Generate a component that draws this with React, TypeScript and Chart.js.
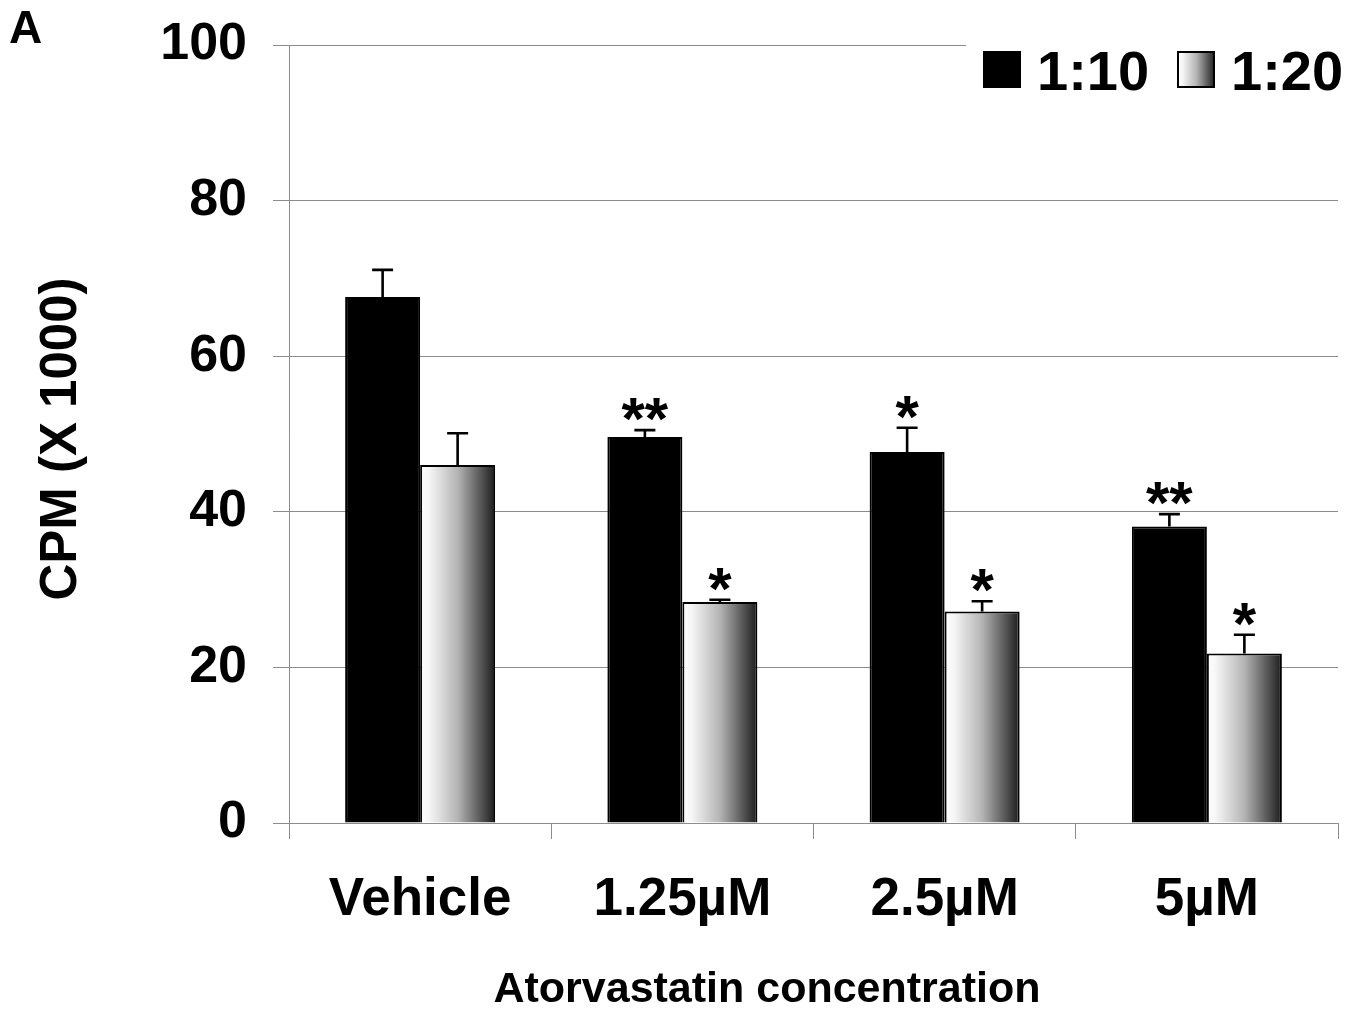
import React, { useEffect, useRef } from "react";
import { Chart, registerables } from "chart.js";

Chart.register(...registerables);

const categories = ["Vehicle", "1.25µM", "2.5µM", "5µM"];
const seriesLabels = ["1:10", "1:20"];
const values110 = [67.6, 49.6, 47.7, 38.1];
const values120 = [46.0, 28.4, 27.2, 21.8];
const errors110 = [3.5, 0.9, 3.1, 1.6];
const errors120 = [4.1, 0.3, 1.3, 2.4];
const marks110 = ["", "**", "*", "**"];
const marks120 = ["", "*", "*", "*"];
const yTickValues = [0, 20, 40, 60, 80, 100];
const xTitle = "Atorvastatin concentration";
const yTitle = "CPM (X 1000)";
const panelLabel = "A";

const FONT = "'Liberation Sans', Arial, Helvetica, sans-serif";
const GRID = "#8c8c8c";
const W = 1363;
const H = 1013;

function makeGradient(ctx: CanvasRenderingContext2D, x0: number, x1: number) {
  const g = ctx.createLinearGradient(x0, 0, x1, 0);
  g.addColorStop(0, "#ffffff");
  g.addColorStop(0.12, "#f6f6f6");
  g.addColorStop(0.5, "#b4b4b4");
  g.addColorStop(0.85, "#4a4a4a");
  g.addColorStop(1, "#1c1c1c");
  return g;
}

const gradientPlugin = {
  id: "gradientBars",
  beforeDatasetsDraw(chart: any) {
    const ctx = chart.ctx;
    const meta = chart.getDatasetMeta(1);
    meta.data.forEach((el: any) => {
      const x0 = el.x - el.width / 2;
      const x1 = el.x + el.width / 2;
      el.options.backgroundColor = makeGradient(ctx, x0, x1);
    });
  },
};

const errorPlugin = {
  id: "errorBars",
  afterDatasetsDraw(chart: any) {
    const ctx = chart.ctx as CanvasRenderingContext2D;
    const yScale = chart.scales.y;
    const errs = [errors110, errors120];
    const marks = [marks110, marks120];
    chart.data.datasets.forEach((ds: any, di: number) => {
      const meta = chart.getDatasetMeta(di);
      meta.data.forEach((el: any, i: number) => {
        const v = ds.data[i] as number;
        const top = yScale.getPixelForValue(v + errs[di][i]);
        ctx.save();
        ctx.strokeStyle = "#000";
        ctx.lineWidth = 2.6;
        ctx.beginPath();
        ctx.moveTo(el.x, el.y);
        ctx.lineTo(el.x, top);
        ctx.moveTo(el.x - 10.5, top);
        ctx.lineTo(el.x + 10.5, top);
        ctx.stroke();
        const m = marks[di][i];
        if (m) {
          ctx.font = `bold 60px ${FONT}`;
          ctx.fillStyle = "#000";
          ctx.textAlign = "center";
          ctx.textBaseline = "alphabetic";
          const desc = ctx.measureText(m).actualBoundingBoxDescent;
          ctx.fillText(m, el.x, top - 9 - desc);
        }
        ctx.restore();
      });
    });
  },
};

const labelsPlugin = {
  id: "customLegendAndTitles",
  afterDraw(chart: any) {
    const ctx = chart.ctx as CanvasRenderingContext2D;
    ctx.save();
    // white legend background covering the top gridline
    ctx.fillStyle = "#ffffff";
    ctx.fillRect(966, 30, W - 966, 70);
    // swatch 1
    ctx.fillStyle = "#000";
    ctx.fillRect(983, 51, 38, 37);
    // swatch 2
    ctx.fillStyle = makeGradient(ctx, 1178, 1215);
    ctx.fillRect(1177, 51, 38, 37);
    ctx.strokeStyle = "#000";
    ctx.lineWidth = 2;
    ctx.strokeRect(1178, 52, 36, 35);
    ctx.fillStyle = "#000";
    ctx.font = `bold 56px ${FONT}`;
    ctx.textAlign = "left";
    ctx.textBaseline = "alphabetic";
    ctx.fillText(chart.data.datasets[0].label, 1037, 90);
    ctx.fillText(chart.data.datasets[1].label, 1231, 90);
    // panel label
    ctx.font = `bold 46px ${FONT}`;
    ctx.fillText(panelLabel, 9, 43);
    // x axis title
    ctx.font = `bold 43px ${FONT}`;
    ctx.textAlign = "center";
    ctx.fillText(xTitle, 767, 1002);
    // y axis title
    ctx.font = `bold 51px ${FONT}`;
    ctx.translate(76, 439);
    ctx.rotate(-Math.PI / 2);
    ctx.textAlign = "center";
    ctx.textBaseline = "alphabetic";
    ctx.fillText(yTitle, 0, 0);
    ctx.restore();
  },
};

export default function App() {
  const canvasRef = useRef<HTMLCanvasElement | null>(null);

  useEffect(() => {
    document.body.style.margin = "0";
    const canvas = canvasRef.current;
    if (!canvas) return;
    const chart = new Chart(canvas, {
      type: "bar",
      data: {
        labels: categories,
        datasets: [
          {
            label: seriesLabels[0],
            data: values110,
            backgroundColor: "#000000",
            borderColor: "#000000",
            borderWidth: 2,
          },
          {
            label: seriesLabels[1],
            data: values120,
            backgroundColor: () => "#b4b4b4",
            borderColor: "#000000",
            borderWidth: 2,
          },
        ],
      },
      options: {
        responsive: false,
        animation: false,
        events: [],
        datasets: { bar: { categoryPercentage: 0.572, barPercentage: 1 } },
        layout: { padding: { top: 45, right: 25, left: 0, bottom: 0 } },
        plugins: { legend: { display: false }, tooltip: { enabled: false } },
        scales: {
          x: {
            offset: true,
            grid: {
              offset: true,
              drawOnChartArea: false,
              drawTicks: true,
              tickLength: 16,
              color: GRID,
              lineWidth: 1,
            },
            border: { display: true, color: GRID, width: 1 },
            ticks: {
              padding: 30,
              color: "#000",
              font: { family: FONT, size: 53, weight: "bold", lineHeight: 1.2 },
              maxRotation: 0,
              autoSkip: false,
            },
            title: { display: false },
            afterFit: (s: any) => {
              s.height = 190;
              s.paddingLeft = 0;
              s.paddingRight = 0;
            },
          },
          y: {
            min: 0,
            max: 100,
            afterBuildTicks: (s: any) => {
              s.ticks = yTickValues.map((v) => ({ value: v }));
            },
            ticks: {
              padding: 26,
              color: "#000",
              font: { family: FONT, size: 52, weight: "bold", lineHeight: 1.2 },
            },
            grid: { color: GRID, lineWidth: 1, tickLength: 16 },
            border: { display: true, color: GRID, width: 1 },
            title: { display: false },
            afterFit: (s: any) => {
              s.width = 289;
              s.paddingTop = 0;
              s.paddingBottom = 0;
            },
          },
        },
      } as any,
      plugins: [gradientPlugin, errorPlugin, labelsPlugin],
    });
    return () => chart.destroy();
  }, []);

  return (
    <div style={{ position: "fixed", left: 0, top: 0, width: W, height: H, background: "#fff" }}>
      <canvas ref={canvasRef} width={W} height={H} style={{ display: "block", width: W, height: H }} />
    </div>
  );
}
